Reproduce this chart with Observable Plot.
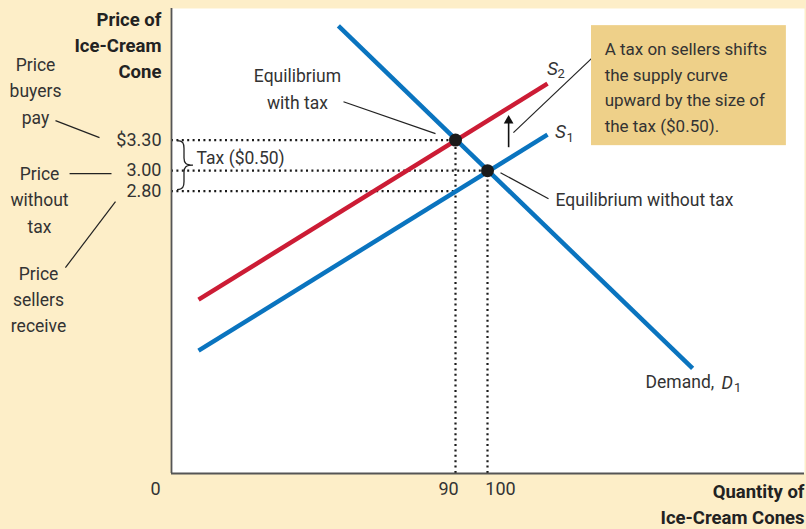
<!DOCTYPE html>
<html><head><meta charset="utf-8">
<script src="https://cdn.jsdelivr.net/npm/d3@7"></script>
<script src="https://cdn.jsdelivr.net/npm/@observablehq/plot@0.6"></script>
<style>
html,body{margin:0;padding:0;background:#fdeec8;}
#chart svg{display:block;}
</style></head><body><div id="chart"></div>
<script>
// ---- data ----
const priceTicks = [3.30, 3.00, 2.80];
const priceLabels = ["$3.30", "3.00", "2.80"];
const qtyTicks = [0, 90, 100];
const qtyLabels = ["0", "90", "100"];
const supply1 = [{q: 9.7, p: 1.235}, {q: 118.75, p: 3.353}];
const supply2 = [{q: 9.7, p: 1.735}, {q: 118.75, p: 3.853}];
const demand = [{q: 53.4, p: 4.42}, {q: 164.1, p: 1.06}];
const equilibria = [{q: 90, p: 3.30}, {q: 100, p: 3.00}];
const priceLevels = [{p: 3.30, q: 90}, {p: 3.00, q: 100}, {p: 2.80, q: 90}];
const quantityLevels = [{q: 90, p: 3.30}, {q: 100, p: 3.00}];

// ---- styling ----
const FONT = "Roboto, 'Liberation Sans', sans-serif";
const ink = "#333";
const blue = "#0a74bf";
const red = "#cc1c35";
const qMin = 1.25, qMax = 199.06, pMin = 0.03, pMax = 4.59;
const fs = 17.5;

const brace = (index, scales) => {
  const x = scales.x, y = scales.y;
  const xl = x(qMin) + 6, yt = y(3.30) + 1, yb = y(2.80) - 1, ym = (yt + yb) / 2;
  const d = `M${xl},${yt} C${xl+6},${yt} ${xl+7},${yt+3} ${xl+7},${yt+8} L${xl+7},${ym-7} C${xl+7},${ym-2} ${xl+9},${ym} ${xl+16},${ym} C${xl+9},${ym} ${xl+7},${ym+2} ${xl+7},${ym+7} L${xl+7},${yb-8} C${xl+7},${yb-3} ${xl+6},${yb} ${xl},${yb}`;
  return d3.create("svg:path").attr("d", d).attr("fill", "none").attr("stroke", "#222").attr("stroke-width", 1.3).node();
};

const xTickDx = [-12, -7, 13];
const dotted = {stroke: "#1a1a1a", strokeWidth: 2.2, strokeDasharray: "2,3.4"};

const chart = Plot.plot({
  width: 806, height: 529,
  marginLeft: 171, marginTop: 8, marginRight: 2, marginBottom: 56,
  style: {fontFamily: FONT, background: "transparent", color: ink},
  x: {domain: [qMin, qMax], axis: null},
  y: {domain: [pMin, pMax], axis: null},
  marks: [
    Plot.frame({fill: "white", stroke: null}),
    // dotted guides
    Plot.ruleY(priceLevels, {y: "p", x1: qMin, x2: "q", ...dotted}),
    Plot.ruleX(quantityLevels, {x: "q", y1: pMin, y2: "p", ...dotted}),
    // curves
    Plot.line(supply1, {x: "q", y: "p", stroke: blue, strokeWidth: 4.5, strokeLinecap: "butt"}),
    Plot.line(supply2, {x: "q", y: "p", stroke: red, strokeWidth: 4.5, strokeLinecap: "butt"}),
    Plot.line(demand, {x: "q", y: "p", stroke: blue, strokeWidth: 4.5, strokeLinecap: "butt"}),
    Plot.dot(equilibria, {x: "q", y: "p", r: 6.5, fill: "#1b1b1b"}),
    // axes lines
    Plot.ruleX([qMin], {stroke: "#555", strokeWidth: 1.8}),
    Plot.ruleY([pMin], {stroke: "#555", strokeWidth: 1.8}),
    // tick labels
    Plot.text(priceTicks, {y: d => d, text: (d, i) => priceLabels[i], frameAnchor: "left", dx: -10, textAnchor: "end", fontSize: 18, fill: ink}),
    ...qtyTicks.map((t, i) => Plot.text([t], {x: d => d, text: [qtyLabels[i]], frameAnchor: "bottom", dy: 21, dx: xTickDx[i], fontSize: 18, fill: ink})),
    // axis titles
    Plot.text(["Price of\nIce-Cream\nCone"], {x: -1.9, y: 4.245, text: d => d, textAnchor: "end", lineAnchor: "middle", fontWeight: "bold", fontSize: 18.5, lineHeight: 1.42, fill: "#222"}),
    Plot.text(["Quantity of\nIce-Cream Cones"], {frameAnchor: "bottom-right", text: d => d, dx: 0, dy: 29.5, textAnchor: "end", lineAnchor: "middle", fontWeight: "bold", fontSize: 18.5, lineHeight: 1.36, fill: "#222"}),
    // left side annotations
    Plot.text(["Price\nbuyers\npay"], {x: -41.25, y: 3.804, text: d => d, fontSize: fs, lineHeight: 1.51, fill: ink}),
    Plot.text(["Price\nwithout\ntax"], {x: -40.0, y: 2.735, text: d => d, fontSize: fs, lineHeight: 1.51, fill: ink}),
    Plot.text(["Price\nsellers\nreceive"], {x: -40.3, y: 1.755, text: d => d, fontSize: fs, lineHeight: 1.51, fill: ink}),
    Plot.link([{x1: -35.0, y1: 3.49, x2: -21.25, y2: 3.324}, {x1: -30.6, y1: 2.97, x2: -17.5, y2: 2.97}, {x1: -31.9, y1: 2.049, x2: -16.25, y2: 2.696}],
      {x1: "x1", y1: "y1", x2: "x2", y2: "y2", stroke: "#222", strokeWidth: 1.2}),
    // brace + tax label
    brace,
    Plot.text(["Tax ($0.50)"], {x: 9.1, y: 3.12, text: d => d, textAnchor: "start", fontSize: fs, fill: ink}),
    // equilibrium labels
    Plot.text(["Equilibrium\nwith tax"], {x: 40.6, y: 3.819, text: d => d, fontSize: fs, lineHeight: 1.5, fill: ink}),
    Plot.link([{x1: 55.0, y1: 3.676, x2: 83.75, y2: 3.363}, {x1: 104.06, y1: 2.98, x2: 119.06, y2: 2.725}, {x1: 108.1, y1: 3.373, x2: 132.8, y2: 4.108}],
      {x1: "x1", y1: "y1", x2: "x2", y2: "y2", stroke: "#222", strokeWidth: 1.2}),
    Plot.text(["Equilibrium without tax"], {x: 121.25, y: 2.706, text: d => d, textAnchor: "start", fontSize: fs, fill: ink}),
    // curve labels
    Plot.text(["S"], {x: 120.3, y: 4.0, text: d => d, fontStyle: "italic", fontSize: 19, fill: ink}),
    Plot.text(["2"], {x: 123.0, y: 3.951, text: d => d, fontSize: 13, fill: ink}),
    Plot.text(["S"], {x: 122.8, y: 3.376, text: d => d, fontStyle: "italic", fontSize: 19, fill: ink}),
    Plot.text(["1"], {x: 125.8, y: 3.325, text: d => d, fontSize: 13, fill: ink}),
    Plot.text(["Demand,"], {x: 149.4, y: 0.92, text: d => d, textAnchor: "start", fontSize: fs, fill: ink}),
    Plot.text(["D"], {x: 173.1, y: 0.92, text: d => d, textAnchor: "start", fontStyle: "italic", fontSize: 18, fill: ink}),
    Plot.text(["1"], {x: 177.0, y: 0.87, text: d => d, textAnchor: "start", fontSize: 13, fill: ink}),
    // shift arrow
    Plot.ruleX([106.6], {y1: 3.225, y2: 3.48, stroke: "#111", strokeWidth: 1.6}),
    Plot.dot([106.6], {x: d => d, y: 3.49, symbol: "triangle", r: 3.6, fill: "#111"}),
    // callout box
    Plot.rect([0], {x1: 132.5, x2: 193.4, y1: 3.245, y2: 4.422, fill: "#eed089"}),
    Plot.text(["A tax on sellers shifts\nthe supply curve\nupward by the size of\nthe tax ($0.50)."], {x: 136.6, y: 3.838, text: d => d, textAnchor: "start", fontSize: 17, lineHeight: 1.52, fill: ink})
  ]
});
document.getElementById("chart").appendChild(chart);
</script>
</body></html>
